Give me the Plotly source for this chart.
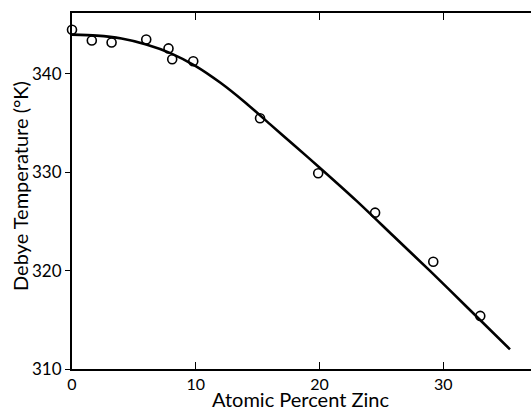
import plotly.graph_objects as go

# measured data points (atomic percent Zn, Debye temperature K)
zinc_pct = [0.0, 1.6, 3.2, 6.0, 7.8, 8.1, 9.8, 15.2, 19.9, 24.5, 29.2, 33.0]
debye_T = [344.5, 343.4, 343.2, 343.5, 342.6, 341.5, 341.3, 335.5, 329.9, 325.9, 320.9, 315.4]

# smooth fitted curve
curve_x = [0, 2, 4, 6, 8, 10, 12, 14, 16, 18, 20, 23, 26, 29, 32, 35.4]
curve_y = [344.0, 343.9, 343.6, 343.0, 342.1, 340.8, 339.1, 337.1, 334.9, 332.7,
           330.5, 327.1, 323.5, 319.9, 316.2, 312.0]

x_ticks = [0, 10, 20, 30]
y_ticks = [310, 320, 330, 340]
x_title = "Atomic Percent Zinc"
y_title = "Debye Temperature (°K)"

font_family = "Lato"

fig = go.Figure()
fig.add_trace(go.Scatter(x=curve_x, y=curve_y, mode="lines",
                         line=dict(color="black", width=2.6, shape="spline", smoothing=0.8),
                         hoverinfo="skip", showlegend=False))
fig.add_trace(go.Scatter(x=zinc_pct, y=debye_T, mode="markers",
                         marker=dict(symbol="circle-open", size=9, color="black",
                                     line=dict(width=1.6, color="black")),
                         cliponaxis=False, showlegend=False))

fig.update_layout(
    width=531, height=408,
    margin=dict(l=72, r=0, t=13, b=39, autoexpand=False),
    paper_bgcolor="white", plot_bgcolor="white",
    font=dict(family=font_family, color="black", size=17),
    xaxis=dict(range=[0, 37.1], tickvals=x_ticks, ticktext=[str(v) for v in x_ticks],
               showgrid=False, zeroline=False, showline=True, linecolor="black",
               linewidth=2, ticks="inside", ticklen=7, tickwidth=1.3, tickcolor="black",
               mirror="ticks", tickfont=dict(size=16), automargin=False),
    yaxis=dict(range=[310, 346.2], tickvals=y_ticks, ticktext=[str(v) for v in y_ticks],
               showgrid=False, zeroline=False, showline=True, linecolor="black",
               linewidth=2, ticks="outside", ticklen=5, tickwidth=1.3, tickcolor="black",
               tickfont=dict(size=17), automargin=False),
    annotations=[
        dict(text=x_title, xref="paper", yref="paper", x=0.498, y=-0.049,
             xanchor="center", yanchor="top", showarrow=False, borderpad=0,
             font=dict(size=20)),
        dict(text=y_title, xref="paper", yref="paper", x=-0.112, y=0.513,
             xanchor="center", yanchor="middle", textangle=-90, showarrow=False,
             borderpad=0, font=dict(size=20)),
    ],
)

fig.write_html("out.html", config={"displayModeBar": False},
               post_script="document.body.style.margin='0';")
